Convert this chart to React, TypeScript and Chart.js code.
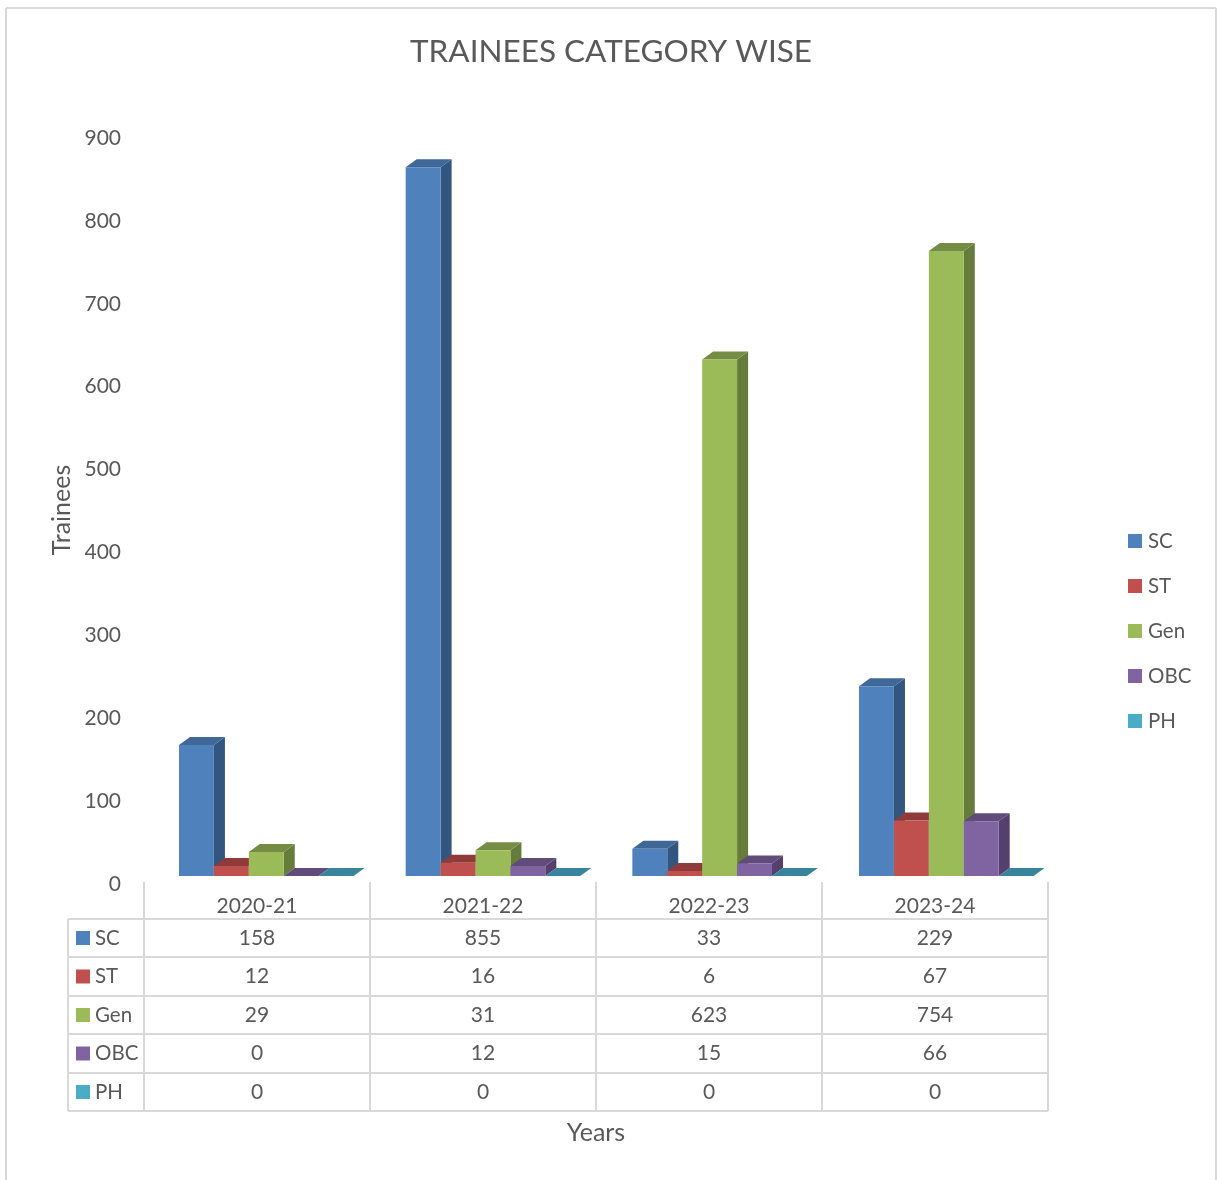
import React, { useEffect, useRef } from "react";
import { Chart, registerables } from "chart.js";

Chart.register(...registerables);

const years = ["2020-21", "2021-22", "2022-23", "2023-24"];
const seriesNames = ["SC", "ST", "Gen", "OBC", "PH"];
const sc = [158, 855, 33, 229];
const st = [12, 16, 6, 67];
const gen = [29, 31, 623, 754];
const obc = [0, 12, 15, 66];
const ph = [0, 0, 0, 0];
const seriesValues = [sc, st, gen, obc, ph];
const frontColors = ["#4F81BD", "#C0504D", "#9BBB59", "#8064A2", "#4BACC6"];
const sideColors = ["#335680", "#7F3432", "#667C3B", "#553F6C", "#327485"];
const topColors = ["#3F6797", "#8F3B39", "#748C43", "#614B7B", "#38849A"];

const TEXT = "#595959";
const RULE = "#D9D9D9";
const FONT = "Lato";
const BAR_ORIGIN = 170;
const BAR_SHIFT = 9;
const BAR_STRETCH = 1.003;
const DEPTH_X = 11;
const DEPTH_Y = 8;
const TABLE_LEFT = 68;
const TABLE_TOP = 882;
const ROW_LINES = [919, 957, 996, 1034, 1073, 1111];
const LEGEND_PADDING = 24.5;

function polygon(ctx: CanvasRenderingContext2D, pts: number[][], fill: string) {
  ctx.beginPath();
  pts.forEach((p, i) => (i ? ctx.lineTo(p[0], p[1]) : ctx.moveTo(p[0], p[1])));
  ctx.closePath();
  ctx.fillStyle = fill;
  ctx.fill();
}

const bars3d = {
  id: "bars3d",
  beforeInit(chart: any) {
    const legend = chart.legend;
    const fit = legend.fit;
    legend.fit = function () {
      fit.call(this);
      this.width = 169;
    };
  },
  afterLayout(chart: any) {
    chart.legend.left = 1132.25 - LEGEND_PADDING;
    chart.legend.top = 530.75 - LEGEND_PADDING;
    const y = chart.scales.y;
    if (!y.__titleMoved) {
      y.__titleMoved = true;
      const drawTitle = y.drawTitle;
      y.drawTitle = function () {
        this.ctx.save();
        this.ctx.translate(0, 7);
        drawTitle.call(this);
        this.ctx.restore();
      };
    }
  },
  beforeDatasetDraw() {
    return false;
  },
  beforeDatasetsDraw(chart: any) {
    const ctx = chart.ctx;
    ctx.save();
    ctx.translate(BAR_ORIGIN + BAR_SHIFT, 0);
    ctx.scale(BAR_STRETCH, 1);
    ctx.translate(-BAR_ORIGIN, 0);
    seriesValues.forEach((_, d) => {
      const meta = chart.getDatasetMeta(d);
      meta.data.forEach((bar: any) => {
        const l = bar.x - bar.width / 2;
        const r = bar.x + bar.width / 2;
        const t = bar.y;
        const b = bar.base;
        polygon(ctx, [[r, t], [r + DEPTH_X, t - DEPTH_Y], [r + DEPTH_X, b - DEPTH_Y], [r, b]], sideColors[d]);
        polygon(ctx, [[l, t], [l + DEPTH_X, t - DEPTH_Y], [r + DEPTH_X, t - DEPTH_Y], [r, t]], topColors[d]);
      });
      meta.data.forEach((bar: any) => bar.draw(ctx, chart.chartArea));
    });
    ctx.restore();
  },
  afterDraw(chart: any) {
    const ctx = chart.ctx;
    const x = chart.scales.x;
    const half = (x.getPixelForTick(1) - x.getPixelForTick(0)) / 2;
    const cols = [...years.map((_, i) => x.getPixelForTick(i) - half), x.right];
    ctx.save();
    ctx.strokeStyle = RULE;
    ctx.lineWidth = 2;
    const line = (x1: number, y1: number, x2: number, y2: number) => {
      ctx.beginPath();
      ctx.moveTo(x1, y1);
      ctx.lineTo(x2, y2);
      ctx.stroke();
    };
    // outer frame of the chart
    line(6, 1180, 6, 8);
    line(6, 8, 1216, 8);
    line(1216, 8, 1216, 1180);
    // data table
    ROW_LINES.forEach((y) => line(TABLE_LEFT, y, cols[cols.length - 1], y));
    cols.forEach((c) => line(c, TABLE_TOP, c, ROW_LINES[ROW_LINES.length - 1]));
    line(TABLE_LEFT, ROW_LINES[0], TABLE_LEFT, ROW_LINES[ROW_LINES.length - 1]);

    ctx.textBaseline = "middle";
    seriesNames.forEach((name, r) => {
      const cy = (ROW_LINES[r] + ROW_LINES[r + 1]) / 2;
      ctx.fillStyle = frontColors[r];
      ctx.fillRect(76, cy - 7, 14, 14);
      ctx.fillStyle = TEXT;
      ctx.textAlign = "left";
      ctx.font = `20.5px ${FONT}`;
      ctx.fillText(name, 95, cy);
      ctx.textAlign = "center";
      ctx.font = `21px ${FONT}`;
      seriesValues[r].forEach((v, i) => ctx.fillText(String(v), x.getPixelForTick(i), cy));
    });
    ctx.restore();
  },
};

export default function App() {
  const ref = useRef<HTMLCanvasElement>(null);
  useEffect(() => {
    Chart.defaults.font.family = FONT;
    const chart = new Chart(ref.current as HTMLCanvasElement, {
      type: "bar",
      data: {
        labels: years,
        datasets: seriesNames.map((label, i) => ({
          label,
          data: seriesValues[i],
          backgroundColor: frontColors[i],
          borderWidth: 0,
          categoryPercentage: 0.77,
          barPercentage: 1,
        })),
      },
      options: {
        responsive: false,
        animation: false,
        layout: { padding: { left: 5, right: 0, top: 0, bottom: 0 } },
        plugins: {
          tooltip: { enabled: false },
          title: {
            display: true,
            text: "TRAINEES CATEGORY WISE",
            color: TEXT,
            font: { size: 31.5, weight: "normal", family: FONT },
            padding: { top: 33.1, bottom: 59.1 },
          },
          legend: {
            position: "right",
            align: "start",
            labels: {
              usePointStyle: true,
              pointStyle: "rect",
              boxWidth: 5.5,
              boxHeight: 14,
              padding: LEGEND_PADDING,
              color: TEXT,
              font: { size: 20.5, family: FONT },
            },
          },
        },
        scales: {
          x: {
            grid: { display: false, drawTicks: false },
            border: { display: false },
            ticks: { color: TEXT, font: { size: 21, family: FONT }, padding: 18, maxRotation: 0, autoSkip: false },
            title: {
              display: true,
              text: "Years",
              color: TEXT,
              font: { size: 25, family: FONT },
              padding: { top: 0, bottom: 32 },
            },
            afterFit(scale: any) {
              scale.height = 304;
            },
          },
          y: {
            min: 0,
            max: 900,
            grid: { display: false, drawTicks: false },
            border: { display: false },
            ticks: { stepSize: 100, color: TEXT, font: { size: 21, family: FONT }, padding: 23, labelOffset: 8 },
            title: {
              display: true,
              text: "Trainees",
              color: TEXT,
              font: { size: 25, family: FONT },
              padding: { top: 42, bottom: 0 },
            },
            afterFit(scale: any) {
              scale.width = 139;
            },
          },
        },
      },
      plugins: [bars3d],
    } as any);
    return () => chart.destroy();
  }, []);
  return (
    <div style={{ position: "absolute", left: 0, top: 0, width: 1217, height: 1180 }}>
      <canvas ref={ref} width={1217} height={1180} style={{ display: "block", filter: "blur(0.5px)" }} />
    </div>
  );
}
